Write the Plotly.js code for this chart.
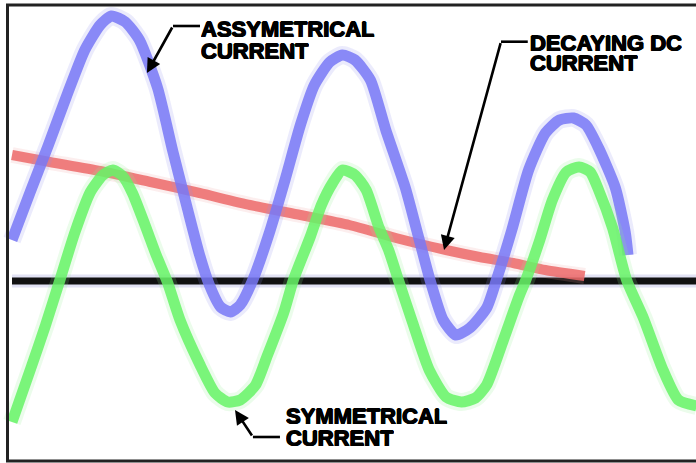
<!DOCTYPE html>
<html>
<head>
<meta charset="utf-8">
<script src="https://cdn.plot.ly/plotly-3.0.1.min.js"></script>
<style>html,body{margin:0;padding:0;background:#fff;}#chart{width:696px;height:463px;}</style>
</head>
<body>
<div id="chart"></div>
<script>
// time in ms, current in A (arbitrary scale)
const asymTime = [0,1.3,2.6,3.9,5.2,6.3,7.1,8.1,9.1,10.4,11.5,12.5,13.4,14.1,14.9,15.6,16.3,17.2,18.4,19.5,20.6,21.6,22.7,23.6,24.5,25.6,26.7,28.1,29.0,29.9,30.8,31.7,32.7,33.9,34.6,35.7,36.9,38.1,39.1,40.1,41.0,41.9,43.1,43.8,44.0];
const asymCurrent = [4.1,8.9,13.6,18.5,23.1,25.6,26.5,25.9,24.1,19.3,12.9,7.4,2.6,-0.4,-2.6,-3.1,-2.4,0.1,4.9,10.1,15.6,19.6,21.9,22.6,22.1,20.1,15.1,9.3,4.6,-0.1,-3.9,-5.4,-4.7,-2.7,0.1,5.1,11.1,14.8,16.1,16.3,15.6,13.3,9.3,4.9,2.6];

const symTime = [0,1.3,2.4,3.4,4.5,5.6,6.5,7.2,7.9,8.6,9.5,10.3,11.1,12.0,13.4,14.5,15.4,16.3,17.4,18.2,19.4,20.1,21.3,22.1,22.9,23.6,24.5,25.3,26.2,26.9,27.6,28.6,29.8,31.0,32.1,33.1,33.9,35.1,36.2,36.7,37.7,38.6,39.6,40.5,41.3,41.9,42.9,43.9,45.1,46.5,47.6,48.9];
const symCurrent = [-14.1,-8.9,-4.4,0.0,4.9,8.9,10.6,11.1,10.5,8.8,5.6,2.6,-0.1,-3.9,-8.3,-11.2,-12.1,-11.9,-10.4,-7.6,-3.2,0.1,4.4,7.6,9.8,11.1,10.6,9.1,5.4,3.1,0.1,-4.1,-8.9,-11.6,-12.1,-11.7,-10.4,-5.9,-1.6,0.1,4.1,8.1,10.9,11.4,10.9,9.1,5.3,0.1,-3.7,-8.9,-11.9,-12.5];

const dcTime = [0,2.7,6.3,9.9,13.4,17.0,20.6,24.1,27.7,31.0,33.4,35.8,38.1,40.9];
const dcCurrent = [12.6,11.9,11.0,9.9,8.8,7.6,6.6,5.6,4.2,3.1,2.4,1.8,1.1,0.5];

const zeroTime = [0,48.9];
const zeroCurrent = [0,0];

const labelAsym = ["ASSYMETRICAL","CURRENT"];
const labelDC = ["DECAYING DC","CURRENT"];
const labelSym = ["SYMMETRICAL","CURRENT"];

function glow(x,y,color,w){
  return {x:x,y:y,mode:'lines',line:{color:color,width:w,shape:'spline',smoothing:0.6},opacity:0.18,hoverinfo:'skip'};
}
function main(x,y,color,w,op){
  return {x:x,y:y,mode:'lines',line:{color:color,width:w,shape:'spline',smoothing:0.6},opacity:op,hoverinfo:'skip'};
}

const data = [
  glow(zeroTime,zeroCurrent,'#6060c0',13),
  main(zeroTime,zeroCurrent,'#111111',7,1),
  glow(dcTime,dcCurrent,'#f0a0a0',16),
  main(dcTime,dcCurrent,'#ec6969',10,0.85),
  glow(asymTime,asymCurrent,'#9090f0',18),
  main(asymTime,asymCurrent,'#7878f6',11,0.85),
  glow(symTime,symCurrent,'#90f090',18),
  main(symTime,symCurrent,'#66f366',11,0.85)
];

const font = {family:'"Liberation Sans", Arial, sans-serif', size:22, color:'#000', weight:'bold',
  shadow:'0.7px 0 0 #000, -0.7px 0 0 #000, 0 0.5px 0 #000, 0 -0.5px 0 #000'};
function txt(t,x,y){
  return {text:'<b>'+t+'</b>',x:x,y:y,xref:'x',yref:'y',xanchor:'left',yanchor:'middle',showarrow:false,font:font,borderpad:0,height:20};
}
function head(hx,hy,tx,ty){
  return {text:'',x:hx,y:hy,ax:tx,ay:ty,xref:'x',yref:'y',axref:'x',ayref:'y',showarrow:true,arrowhead:2,arrowsize:1.1,arrowwidth:2.6,arrowcolor:'#000',standoff:0};
}
function elbow(ex,ey,sx,sy){
  return {type:'path',xref:'x',yref:'y',path:'M '+sx+' '+sy+' L '+ex+' '+ey,line:{color:'#000',width:2.6}};
}

const layout = {
  width:696,height:463,
  margin:{l:0,r:0,t:0,b:0},
  paper_bgcolor:'#fff',plot_bgcolor:'#fff',
  showlegend:false,
  xaxis:{visible:false,range:[-0.857,48.857],fixedrange:true},
  yaxis:{visible:false,range:[-18.2,28.1],fixedrange:true},
  shapes:[
    elbow(11.5,25.5,13.43,25.5),
    elbow(34.93,23.93,36.84,23.93),
    elbow(17.21,-15.6,19.14,-15.6),
    {type:'rect',xref:'paper',yref:'paper',x0:7.5/696,x1:1.02,y0:(463-461)/463,y1:(463-5)/463,line:{color:'#222',width:3},fillcolor:'rgba(0,0,0,0)'}
  ],
  annotations:[
    txt(labelAsym[0],13.45,25.25), txt(labelAsym[1],13.45,23.05),
    txt(labelDC[0],36.95,23.85), txt(labelDC[1],36.95,21.77),
    txt(labelSym[0],19.5,-13.45), txt(labelSym[1],19.5,-15.65),
    head(9.64,20.8,11.5,25.5),
    head(30.86,3.1,34.93,23.93),
    head(15.93,-12.9,17.21,-15.6)
  ]
};

Plotly.newPlot('chart',data,layout,{staticPlot:true,displayModeBar:false});
</script>
</body>
</html>
